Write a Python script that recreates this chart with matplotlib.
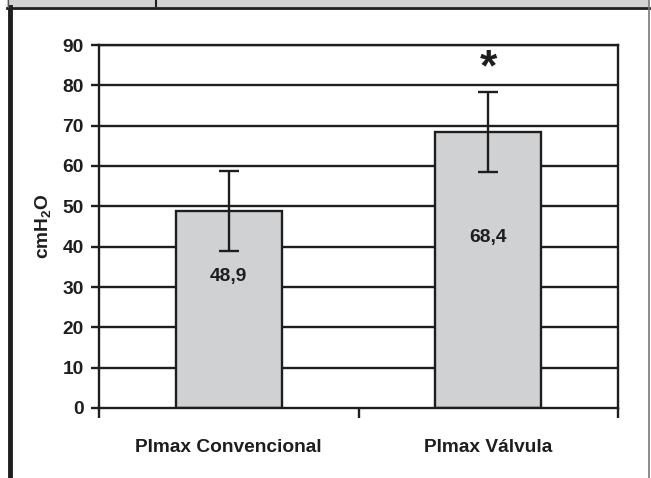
import matplotlib
matplotlib.use('Agg')
import matplotlib.pyplot as plt
from matplotlib.lines import Line2D
from matplotlib.patches import Rectangle

# data
categories = ['PImax Convencional', 'PImax Válvula']
means = [48.9, 68.4]
errors = [9.9, 10.0]
value_labels = ['48,9', '68,4']
yticks = [0, 10, 20, 30, 40, 50, 60, 70, 80, 90]

plt.rcParams['font.family'] = ['Liberation Sans', 'DejaVu Sans']
plt.rcParams['font.weight'] = 'bold'
plt.rcParams['mathtext.fontset'] = 'custom'
plt.rcParams['mathtext.rm'] = 'Liberation Sans:bold'
plt.rcParams['mathtext.bf'] = 'Liberation Sans:bold'
plt.rcParams['mathtext.it'] = 'Liberation Sans:bold'

W, H = 651, 478
fig = plt.figure(figsize=(W / 100, H / 100), dpi=100)
ax = fig.add_axes([99 / W, (H - 408) / H, (618 - 99) / W, (408 - 45) / H])

line_col = '#1e1e1e'
fs = 13.8
x = list(range(len(categories)))

# grid lines behind bars
for t in yticks[1:]:
    ax.axhline(t, color=line_col, lw=1.7, zorder=1)

ax.bar(x, means, width=0.41, color='#d0d1d3', edgecolor=line_col, linewidth=1.7, zorder=2)
ax.errorbar(x, means, yerr=errors, fmt='none', ecolor=line_col, elinewidth=1.7,
            capsize=7, capthick=1.7, zorder=3)

# value labels inside bars
label_y = [32.6, 42.2]
for xi, lab, ly in zip(x, value_labels, label_y):
    ax.text(xi, ly, lab, ha='center', va='center', fontsize=fs, fontweight='bold', color=line_col, zorder=4)

# significance mark
ax.text(1, 84.0, '*', ha='center', va='center', fontsize=32, fontweight='bold', color=line_col)

ax.set_xlim(-0.5, 1.5)
ax.set_ylim(0, 90)
ax.set_yticks(yticks)
ax.set_yticklabels([str(t) for t in yticks], fontsize=fs, fontweight='bold', color=line_col)
ax.tick_params(axis='y', direction='out', length=6, width=1.7, pad=5, color=line_col)

ax.set_xticks([-0.5, 0.5, 1.5])
ax.set_xticklabels([])
ax.tick_params(axis='x', which='major', direction='out', length=7, width=1.7, color=line_col)
ax.set_xticks(x, minor=True)
ax.set_xticklabels(categories, minor=True, fontsize=fs, fontweight='bold', color=line_col)
ax.tick_params(axis='x', which='minor', length=0, pad=22)

for s in ax.spines.values():
    s.set_color(line_col)
    s.set_linewidth(1.7)

ax.set_ylabel(r'$\mathrm{cmH_2O}$', fontsize=fs, color=line_col, labelpad=7)

# outer frame pieces
fig.patches.append(Rectangle((7 / W, (H - 7) / H), (649 - 7) / W, 7 / H, transform=fig.transFigure,
                             facecolor='#d3d3d3', edgecolor='none', zorder=0))
fig.lines.append(Line2D([7 / W, 649 / W], [(H - 7.5) / H] * 2, transform=fig.transFigure,
                        color=line_col, lw=2))
fig.lines.append(Line2D([10 / W, 10 / W], [0, (H - 7) / H], transform=fig.transFigure,
                        color=line_col, lw=3.5))
fig.lines.append(Line2D([7.5 / W, 7.5 / W], [(H - 7) / H, 1], transform=fig.transFigure,
                        color='#555555', lw=1))
fig.lines.append(Line2D([156 / W, 156 / W], [(H - 6) / H, 1], transform=fig.transFigure,
                        color=line_col, lw=1.5))
fig.lines.append(Line2D([649 / W, 649 / W], [0, 1], transform=fig.transFigure,
                        color='#777777', lw=1.2))

fig.savefig('out.png', dpi=100)
